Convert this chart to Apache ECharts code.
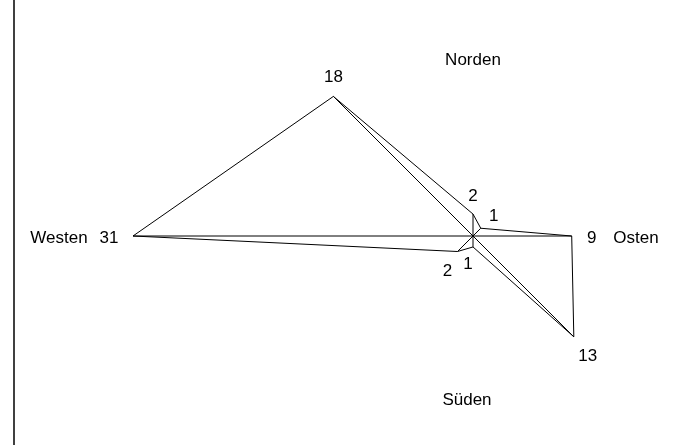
<!DOCTYPE html>
<html>
<head>
<meta charset="utf-8">
<script src="https://cdn.jsdelivr.net/npm/echarts@6/dist/echarts.min.js"></script>
<style>
  html, body { margin: 0; padding: 0; background: #fff; }
  #chart { width: 690px; height: 445px; }
</style>
</head>
<body>
<div id="chart"></div>
<script>
// Himmelsrichtungen (im Uhrzeigersinn ab Norden) und Werte
var directions = ['N', 'NE', 'E', 'SE', 'S', 'SW', 'W', 'NW']
var angles = [0, 45, 90, 135, 180, 225, 270, 315]
var values = [2, 1, 9, 13, 1, 2, 31, 18]
var dirNames = ['Norden', 'Osten', 'Süden', 'Westen']

var chart = echarts.init(document.getElementById('chart'))

// wo die Zahl neben der Spitze steht (Versatz in px)
var labelOffset = {
  N: [0, -18], NE: [13, -12], E: [20, 2], SE: [14, 19],
  S: [-5, 17], SW: [-10, 20], W: [-24, 2], NW: [0, -19]
}

var polyData = directions.map(function(d, i) {
  return {
    value: [values[i], angles[i]],
    label: { show: true, offset: labelOffset[d] }
  }
})
// Polygon schliessen
polyData.push({ value: [values[0], angles[0]], label: { show: false } })

var lineStyle = { color: '#000', width: 1 }

var series = [{
  type: 'line',
  coordinateSystem: 'polar',
  data: polyData,
  symbol: 'circle',
  symbolSize: 0.1,
  itemStyle: { color: 'rgba(0,0,0,0)' },
  lineStyle: lineStyle,
  label: {
    position: 'inside',
    color: '#000',
    fontSize: 17,
    fontFamily: 'Liberation Sans, Arial, sans-serif',
    formatter: function(p) { return p.value[0] }
  },
  silent: true
}]

// Speichen vom Mittelpunkt zu jeder Spitze
directions.forEach(function(d, i) {
  series.push({
    type: 'line',
    coordinateSystem: 'polar',
    data: [[0, angles[i]], [values[i], angles[i]]],
    symbol: 'none',
    lineStyle: lineStyle,
    silent: true
  })
})

var nameStyle = {
  fill: '#000',
  font: '17px "Liberation Sans", Arial, sans-serif',
  textAlign: 'center',
  textVerticalAlign: 'middle'
}

var option = {
  animation: false,
  polar: {
    center: [473, 236],
    radius: 340
  },
  angleAxis: {
    type: 'value',
    min: 0,
    max: 360,
    startAngle: 90,
    clockwise: true,
    axisLine: { show: false },
    axisTick: { show: false },
    axisLabel: { show: false },
    splitLine: { show: false }
  },
  radiusAxis: {
    type: 'value',
    min: 0,
    max: 31,
    axisLine: { show: false },
    axisTick: { show: false },
    axisLabel: { show: false },
    splitLine: { show: false }
  },
  graphic: [
    { type: 'line', shape: { x1: 14, y1: 0, x2: 14, y2: 445 }, style: { stroke: '#000', lineWidth: 1.5 } },
    { type: 'text', x: 473, y: 60, style: Object.assign({ text: dirNames[0] }, nameStyle) },
    { type: 'text', x: 636, y: 238, style: Object.assign({ text: dirNames[1] }, nameStyle) },
    { type: 'text', x: 467, y: 400, style: Object.assign({ text: dirNames[2] }, nameStyle) },
    { type: 'text', x: 59, y: 238, style: Object.assign({ text: dirNames[3] }, nameStyle) }
  ],
  series: series
}

chart.setOption(option)
</script>
</body>
</html>
